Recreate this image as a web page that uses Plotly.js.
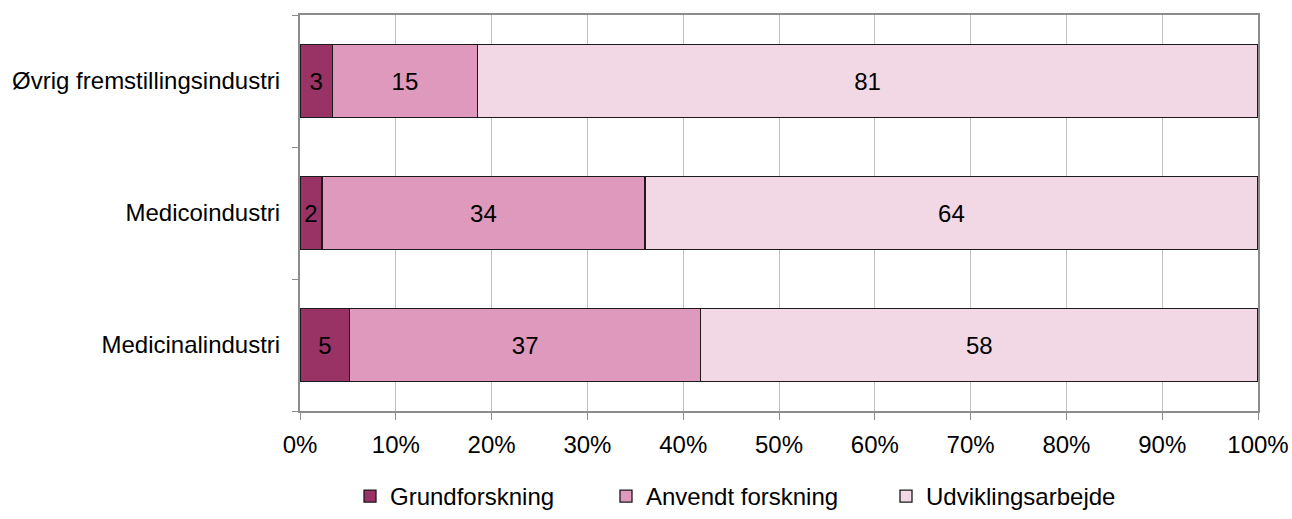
<!DOCTYPE html>
<html>
<head>
<meta charset="utf-8">
<script src="https://cdn.plot.ly/plotly-3.0.1.min.js"></script>
<style>html,body{margin:0;padding:0;background:#fff;}#chart{width:1292px;height:519px;}</style>
</head>
<body>
<div id="chart"></div>
<script>
const categories = ["Medicinalindustri", "Medicoindustri", "Øvrig fremstillingsindustri"];
const seriesNames = ["Grundforskning", "Anvendt forskning", "Udviklingsarbejde"];
const grundforskning = [5.2, 2.3, 3.4];
const anvendtForskning = [36.6, 33.7, 15.1];
const udviklingsarbejde = [58.2, 64.0, 81.5];
const labelsGrund = ["5", "2", "3"];
const labelsAnvendt = ["37", "34", "15"];
const labelsUdvikling = ["58", "64", "81"];
const xTickVals = [0, 10, 20, 30, 40, 50, 60, 70, 80, 90, 100];
const xTickText = ["0%", "10%", "20%", "30%", "40%", "50%", "60%", "70%", "80%", "90%", "100%"];
const colors = ["#993366", "#DE99BD", "#F2D8E5"];

const font = "Liberation Sans, Arial, sans-serif";
const fs = 24;
const values = [grundforskning, anvendtForskning, udviklingsarbejde];
const labels = [labelsGrund, labelsAnvendt, labelsUdvikling];
const legendIds = ["legend", "legend2", "legend3"];

const traces = seriesNames.map((name, i) => ({
  type: "bar",
  orientation: "h",
  name: name,
  y: categories,
  x: values[i],
  text: labels[i],
  textposition: "inside",
  insidetextanchor: "middle",
  constraintext: "none",
  textfont: {family: font, size: fs, color: "#000"},
  marker: {color: colors[i], line: {color: "#1a1a1a", width: 1.3}},
  width: 0.55,
  legend: legendIds[i],
  hoverinfo: "none"
}));

const legendBase = {
  orientation: "h",
  xref: "container", yref: "container",
  xanchor: "left", yanchor: "bottom",
  y: -6/519,
  font: {family: font, size: fs, color: "#000"},
  bgcolor: "rgba(0,0,0,0)",
  borderwidth: 0,
  itemwidth: 30,
  tracegroupgap: 0
};

const layout = {
  width: 1292, height: 519,
  margin: {l: 300, r: 34, t: 15, b: 108},
  paper_bgcolor: "#fff",
  plot_bgcolor: "#fff",
  barmode: "stack",
  bargap: 0.45,
  font: {family: font, size: fs, color: "#000"},
  xaxis: {
    range: [0, 100],
    tickvals: xTickVals,
    ticktext: xTickText,
    showgrid: true,
    gridcolor: "#c0c0c0",
    gridwidth: 1,
    showline: true,
    linecolor: "#8c8c8c",
    linewidth: 2,
    mirror: true,
    ticks: "outside",
    ticklen: 7,
    tickcolor: "#8c8c8c",
    ticklabelstandoff: 4,
    tickfont: {family: font, size: fs, color: "#000"},
    zeroline: false,
    fixedrange: true
  },
  yaxis: {
    type: "category",
    categoryorder: "array",
    categoryarray: categories,
    range: [-0.5, 2.5],
    showgrid: false,
    showline: true,
    linecolor: "#8c8c8c",
    linewidth: 2,
    mirror: true,
    ticks: "outside",
    tickson: "boundaries",
    ticklen: 6,
    tickcolor: "#8c8c8c",
    ticklabelstandoff: 13,
    tickfont: {family: font, size: fs, color: "#000"},
    zeroline: false,
    fixedrange: true
  },
  showlegend: true,
  legend: Object.assign({}, legendBase, {x: 350/1292}),
  legend2: Object.assign({}, legendBase, {x: 606/1292}),
  legend3: Object.assign({}, legendBase, {x: 886/1292})
};

Plotly.newPlot("chart", traces, layout, {displayModeBar: false, staticPlot: true});
</script>
</body>
</html>
